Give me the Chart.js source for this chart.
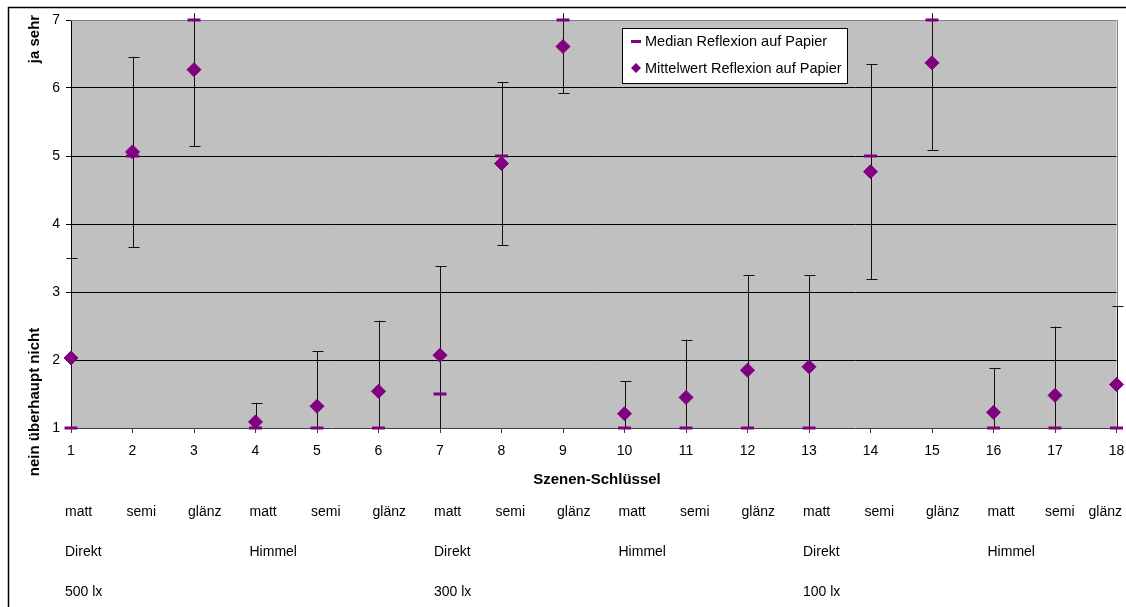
<!DOCTYPE html>
<html>
<head>
<meta charset="utf-8">
<script src="https://cdn.jsdelivr.net/npm/chart.js@4/dist/chart.umd.min.js"></script>
<style>
  html, body { margin: 0; padding: 0; background: #fff; }
  #chart { display: block; }
</style>
</head>
<body>
<canvas id="chart" width="1126" height="607"></canvas>
<script>
const categories = ['1', '2', '3', '4', '5', '6', '7', '8', '9', '10', '11', '12', '13', '14', '15', '16', '17', '18'];
const meanValues = [2.03, 5.06, 6.27, 1.09, 1.32, 1.54, 2.07, 4.89, 6.61, 1.21, 1.45, 1.85, 1.90, 4.77, 6.37, 1.23, 1.48, 1.64];
const medianValues = [1, 5, 7, 1, 1, 1, 1.5, 5, 7, 1, 1, 1, 1, 5, 7, 1, 1, 1];
const sdValues = [1.47, 1.40, 1.13, 0.28, 0.81, 1.04, 1.31, 1.20, 0.69, 0.48, 0.85, 1.40, 1.35, 1.58, 1.28, 0.65, 1.01, 1.15];
const yTicks = [1, 2, 3, 4, 5, 6, 7];

// second-level category rows under the axis
const surfaceRow = ['matt', 'semi', 'glänz', 'matt', 'semi', 'glänz', 'matt', 'semi', 'glänz',
                    'matt', 'semi', 'glänz', 'matt', 'semi', 'glänz', 'matt', 'semi', 'glänz'];
const lightRow = ['Direkt', '', '', 'Himmel', '', '', 'Direkt', '', '', 'Himmel', '', '', 'Direkt', '', '', 'Himmel', '', ''];
const luxRow = ['500 lx', '', '', '', '', '', '300 lx', '', '', '', '', '', '100 lx', '', '', '', '', ''];

const FONT = 'Arial, "Liberation Sans", sans-serif';
const PURPLE = '#800080';

const excelLook = {
	id: 'excelLook',
	beforeDraw(chart) {
		const ctx = chart.ctx;
		const a = chart.chartArea;
		ctx.save();
		ctx.fillStyle = '#c0c0c0';
		ctx.fillRect(a.left, a.top, a.right - a.left, a.bottom - a.top);
		// outer frame
		ctx.strokeStyle = '#000';
		ctx.lineWidth = 1.5;
		ctx.beginPath();
		ctx.moveTo(8.5, chart.height + 5);
		ctx.lineTo(8.5, 7.5);
		ctx.lineTo(chart.width + 5, 7.5);
		ctx.stroke();
		ctx.restore();
	},
	beforeDatasetsDraw(chart) {
		const ctx = chart.ctx;
		const a = chart.chartArea;
		const x = chart.scales.x;
		const y = chart.scales.y;
		ctx.save();
		ctx.strokeStyle = '#808080';
		ctx.lineWidth = 1;
		ctx.beginPath();
		ctx.moveTo(a.left, Math.round(a.top) + 0.5);
		ctx.lineTo(Math.round(a.right) + 0.5, Math.round(a.top) + 0.5);
		ctx.lineTo(Math.round(a.right) + 0.5, a.bottom);
		ctx.stroke();

		// error bars: mean +/- sd, cut at the axis and just above the top
		ctx.strokeStyle = '#111';
		ctx.lineWidth = 1;
		meanValues.forEach((m, i) => {
			const hi = m + sdValues[i];
			const lo = m - sdValues[i];
			const px = Math.round(x.getPixelForValue(i)) + 0.5;
			const top = y.getPixelForValue(Math.min(hi, 7.1));
			const bot = y.getPixelForValue(Math.max(lo, 1));
			ctx.beginPath();
			ctx.moveTo(px, top);
			ctx.lineTo(px, bot);
			if (hi <= 7) {
				const t = Math.round(top) + 0.5;
				ctx.moveTo(px - 5, t);
				ctx.lineTo(px + 6, t);
			}
			if (lo >= 1) {
				const b = Math.round(bot) + 0.5;
				ctx.moveTo(px - 5, b);
				ctx.lineTo(px + 6, b);
			}
			ctx.stroke();
		});
		ctx.restore();
	},
	afterDraw(chart) {
		const ctx = chart.ctx;
		const x = chart.scales.x;
		ctx.save();
		ctx.fillStyle = '#000';

		// axis titles
		ctx.font = 'bold 15px ' + FONT;
		ctx.textAlign = 'center';
		ctx.textBaseline = 'middle';
		ctx.fillText('Szenen-Schlüssel', 597, 480);
		ctx.save();
		ctx.translate(35, 39);
		ctx.rotate(-Math.PI / 2);
		ctx.fillText('ja sehr', 0, 0);
		ctx.restore();
		ctx.save();
		ctx.translate(35, 402);
		ctx.rotate(-Math.PI / 2);
		ctx.fillText('nein überhaupt nicht', 0, 0);
		ctx.restore();

		// text rows below the axis, left aligned at each category
		ctx.font = '14px ' + FONT;
		ctx.textAlign = 'left';
		const drawRow = (row, ypos) => {
			let limit = chart.width - 4;
			for (let i = row.length - 1; i >= 0; i--) {
				if (!row[i]) continue;
				const w = ctx.measureText(row[i]).width;
				const px = Math.min(x.getPixelForValue(i) - 6, limit - w);
				ctx.fillText(row[i], px, ypos);
				limit = px - 14;
			}
		};
		drawRow(surfaceRow, 512);
		drawRow(lightRow, 552);
		drawRow(luxRow, 592);

		// legend box
		const lx = 622, ly = 28, lw = 225, lh = 55;
		ctx.fillStyle = '#fff';
		ctx.fillRect(lx, ly, lw, lh);
		ctx.strokeStyle = '#000';
		ctx.lineWidth = 1;
		ctx.strokeRect(lx + 0.5, ly + 0.5, lw, lh);
		ctx.font = '14.5px ' + FONT;
		ctx.textBaseline = 'middle';
		chart.data.datasets.forEach((ds, i) => {
			const cy = ly + 13 + i * 27;
			const cx = lx + 14;
			ctx.fillStyle = PURPLE;
			if (ds.pointStyle === 'line') {
				ctx.fillRect(cx - 5, cy - 1, 10, 3);
			} else {
				ctx.beginPath();
				ctx.moveTo(cx, cy - 5);
				ctx.lineTo(cx + 5, cy);
				ctx.lineTo(cx, cy + 5);
				ctx.lineTo(cx - 5, cy);
				ctx.closePath();
				ctx.fill();
			}
			ctx.fillStyle = '#000';
			ctx.fillText(ds.label, lx + 23, cy + 1);
		});
		ctx.restore();
	}
};

const ctx = document.getElementById('chart').getContext('2d');
const chart = new Chart(ctx, {
	type: 'line',
	data: {
		labels: categories,
		datasets: [
			{
				label: 'Median Reflexion auf Papier',
				data: medianValues,
				showLine: false,
				pointStyle: 'line',
				pointRadius: 6.5,
				pointBorderWidth: 3,
				borderColor: PURPLE,
				backgroundColor: PURPLE,
				clip: false
			},
			{
				label: 'Mittelwert Reflexion auf Papier',
				data: meanValues,
				showLine: false,
				pointStyle: 'rectRot',
				pointRadius: 7,
				pointBorderWidth: 1,
				borderColor: PURPLE,
				backgroundColor: PURPLE,
				clip: false
			}
		]
	},
	options: {
		responsive: false,
		animation: false,
		devicePixelRatio: 1,
		layout: {
			padding: { top: 20, right: 8, left: 0, bottom: 0 }
		},
		plugins: {
			legend: { display: false },
			tooltip: { enabled: false }
		},
		scales: {
			x: {
				type: 'category',
				offset: false,
				afterFit: (scale) => {
					scale.height = 179;
					scale.paddingLeft = 0;
					scale.paddingRight = 0;
				},
				grid: {
					drawOnChartArea: false,
					tickLength: 5,
					tickColor: '#404040'
				},
				border: { color: '#404040', width: 1 },
				ticks: {
					autoSkip: false,
					maxRotation: 0,
					padding: 10,
					color: '#000',
					font: { family: FONT, size: 14 }
				}
			},
			y: {
				min: 1,
				max: 7,
				afterFit: (scale) => {
					scale.width = 71;
					scale.paddingTop = 0;
					scale.paddingBottom = 0;
				},
				afterBuildTicks: (scale) => { scale.ticks = yTicks.map(v => ({ value: v })); },
				grid: {
					color: (c) => (c.tick && c.tick.value > 1 && c.tick.value < 7) ? '#000' : 'rgba(0,0,0,0)',
					tickColor: '#000',
					tickLength: 5
				},
				border: { color: '#000', width: 1 },
				ticks: {
					padding: 6,
					color: '#000',
					font: { family: FONT, size: 14 }
				}
			}
		}
	},
	plugins: [excelLook]
});
</script>
</body>
</html>
